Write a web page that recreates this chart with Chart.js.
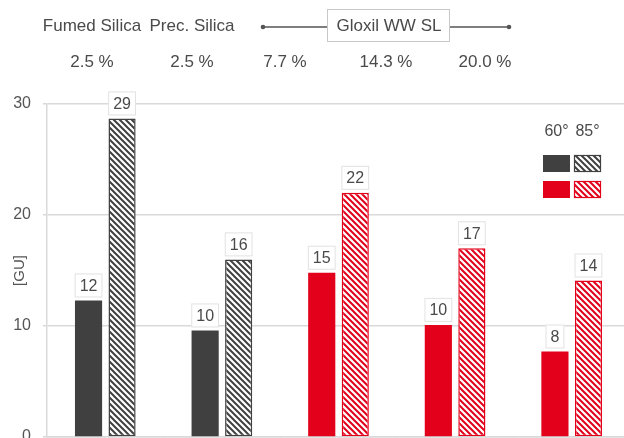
<!doctype html>
<html lang="en">
<head>
  <meta charset="utf-8">
  <title>Gloss 60° / 85°</title>
  <script src="https://cdn.jsdelivr.net/npm/chart.js"></script>
  <style>
    html, body { margin: 0; padding: 0; background: #fff; overflow: hidden; }
    #wrap { width: 630px; height: 460px; }
  </style>
</head>
<body>
  <div id="wrap"><canvas id="gloss" width="630" height="460"></canvas></div>

  <script>
    // data
    const categories = ['Fumed Silica', 'Prec. Silica', 'Gloxil WW SL 7.7', 'Gloxil WW SL 14.3', 'Gloxil WW SL 20.0'];
    const gloss60 = [12.3, 9.6, 14.8, 10.1, 7.7];
    const gloss85 = [28.7, 16.0, 22.0, 17.0, 14.1];
    const fillerNames = ['Fumed Silica', 'Prec. Silica'];
    const gloxilName = 'Gloxil WW SL';
    const loadings = ['2.5 %', '2.5 %', '7.7 %', '14.3 %', '20.0 %'];
    const angles = ['60°', '85°'];
    const yTicks = [0, 10, 20, 30];

    const FONT = '"Liberation Sans", Arial, sans-serif';
    const DARK = '#404040';
    const RED = '#e2001a';
    const TEXT = '#4a4a4a';
    const GRID = '#d9d9d9';

    // header layout (pixels)
    const headerX = [92, 192, 285, 386, 485];

    function hatch(color) {
      const c = document.createElement('canvas');
      c.width = c.height = 6;
      const g = c.getContext('2d');
      g.fillStyle = '#fff';
      g.fillRect(0, 0, 6, 6);
      g.strokeStyle = color;
      g.lineWidth = 2;
      g.beginPath();
      g.moveTo(0, 0); g.lineTo(6, 6);
      g.moveTo(-3, 3); g.lineTo(3, 9);
      g.moveTo(3, -3); g.lineTo(9, 3);
      g.stroke();
      return g.createPattern(c, 'repeat');
    }

    const darkHatch = hatch(DARK);
    const redHatch = hatch(RED);
    const isRed = categories.map((c, i) => i >= 2);

    const valueLabels = {
      id: 'valueLabels',
      afterDatasetsDraw(chart) {
        const ctx = chart.ctx;
        ctx.save();
        ctx.font = '16px ' + FONT;
        ctx.textAlign = 'center';
        ctx.textBaseline = 'middle';
        chart.data.datasets.forEach((ds, i) => {
          chart.getDatasetMeta(i).data.forEach((bar, j) => {
            const txt = String(Math.round(ds.data[j]));
            const w = ctx.measureText(txt).width + 10;
            const h = 24;
            const bx = bar.x - w / 2, by = bar.y - 3 - h;
            ctx.fillStyle = '#fff';
            ctx.fillRect(bx, by, w, h);
            ctx.strokeStyle = '#e2e2e2';
            ctx.lineWidth = 1;
            ctx.strokeRect(bx + 0.5, by + 0.5, w - 1, h - 1);
            ctx.fillStyle = TEXT;
            ctx.fillText(txt, bar.x, by + h / 2 + 1);
          });
        });
        ctx.restore();
      }
    };

    const header = {
      id: 'header',
      afterDraw(chart) {
        const ctx = chart.ctx;
        ctx.save();
        ctx.fillStyle = TEXT;
        ctx.textAlign = 'center';
        ctx.textBaseline = 'middle';
        ctx.font = '17px ' + FONT;
        fillerNames.forEach((n, i) => ctx.fillText(n, headerX[i], 26));
        loadings.forEach((l, i) => ctx.fillText(l, headerX[i], 62));

        // bracket over the Gloxil columns
        ctx.strokeStyle = '#555';
        ctx.lineWidth = 1.3;
        ctx.beginPath();
        ctx.moveTo(263, 27); ctx.lineTo(509, 27);
        ctx.stroke();
        ctx.fillStyle = '#555';
        [263, 509].forEach(x => { ctx.beginPath(); ctx.arc(x, 27, 2.3, 0, Math.PI * 2); ctx.fill(); });
        ctx.fillStyle = '#fff';
        ctx.fillRect(327, 9, 123, 33);
        ctx.strokeStyle = '#c8c8c8';
        ctx.lineWidth = 1;
        ctx.strokeRect(327.5, 9.5, 122, 32);
        ctx.fillStyle = TEXT;
        ctx.fillText(gloxilName, 389, 26);

        // legend matrix
        ctx.font = '16px ' + FONT;
        const lx = [543, 574], sw = 27, sh = 17;
        angles.forEach((a, i) => ctx.fillText(a, lx[i] + sw / 2, 132));
        [[DARK, darkHatch], [RED, redHatch]].forEach((row, r) => {
          const y = 155 + r * 26;
          ctx.fillStyle = row[0];
          ctx.fillRect(lx[0], y, sw, sh);
          ctx.fillStyle = row[1];
          ctx.fillRect(lx[1], y, sw, sh);
          ctx.strokeStyle = row[0];
          ctx.lineWidth = 1.2;
          ctx.strokeRect(lx[1] + 0.5, y + 0.5, sw - 1, sh - 1);
        });
        ctx.restore();
      }
    };

    new Chart(document.getElementById('gloss'), {
      type: 'bar',
      data: {
        labels: categories,
        datasets: [
          {
            label: angles[0],
            data: gloss60,
            backgroundColor: isRed.map(r => r ? RED : DARK),
            borderWidth: 0,
            categoryPercentage: 0.575,
            barPercentage: 0.81
          },
          {
            label: angles[1],
            data: gloss85,
            backgroundColor: isRed.map(r => r ? redHatch : darkHatch),
            borderColor: isRed.map(r => r ? RED : DARK),
            borderWidth: 1.5,
            borderSkipped: false,
            categoryPercentage: 0.575,
            barPercentage: 0.81
          }
        ]
      },
      options: {
        responsive: false,
        animation: false,
        layout: { padding: { top: 104, left: 0, right: 0, bottom: 0 } },
        plugins: { legend: { display: false }, tooltip: { enabled: false } },
        scales: {
          x: {
            offset: true,
            ticks: { display: false },
            grid: { drawOnChartArea: false, drawTicks: true, tickLength: 5, color: GRID, offset: true },
            border: { color: GRID, width: 1.5 },
            afterFit(s) { s.height = 23; }
          },
          y: {
            min: yTicks[0],
            max: yTicks[yTicks.length - 1],
            afterBuildTicks(s) { s.ticks = yTicks.map(v => ({ value: v })); },
            ticks: { color: '#555', font: { size: 16, family: FONT }, padding: 12 },
            grid: { color: GRID, lineWidth: 1.5, tickLength: 4 },
            border: { color: GRID, width: 1.5 },
            title: { display: true, text: '[GU]', color: '#555', font: { size: 15, family: FONT }, padding: { top: 11, bottom: 0 } },
            afterFit(s) { s.width = 47; }
          }
        }
      },
      plugins: [valueLabels, header]
    });
  </script>
</body>
</html>
